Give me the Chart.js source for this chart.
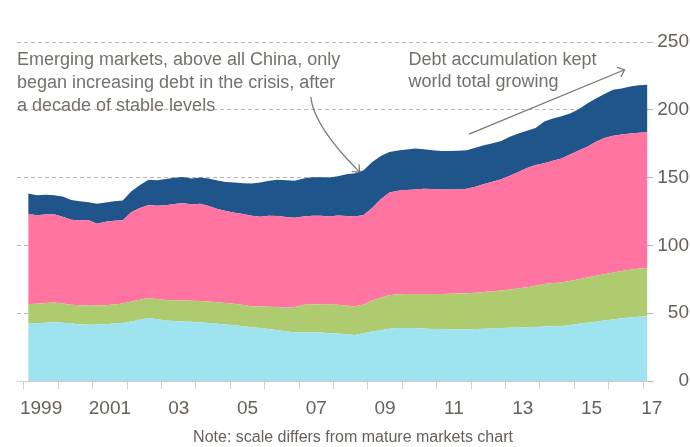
<!DOCTYPE html>
<html>
<head>
<meta charset="utf-8">
<script src="https://cdn.jsdelivr.net/npm/chart.js@4.4.1/dist/chart.umd.min.js"></script>
<style>
  html, body { margin: 0; padding: 0; background: #fff; }
  #wrap { width: 690px; height: 447px; }
</style>
</head>
<body>
<div id="wrap"><canvas id="debtChart"></canvas></div>
<script>
// Emerging markets debt, % of GDP, quarterly, stacked bottom to top
const quarters = [
    '1999Q1', '1999Q2', '1999Q3', '1999Q4', '2000Q1', '2000Q2', '2000Q3', '2000Q4',
    '2001Q1', '2001Q2', '2001Q3', '2001Q4', '2002Q1', '2002Q2', '2002Q3', '2002Q4',
    '2003Q1', '2003Q2', '2003Q3', '2003Q4', '2004Q1', '2004Q2', '2004Q3', '2004Q4',
    '2005Q1', '2005Q2', '2005Q3', '2005Q4', '2006Q1', '2006Q2', '2006Q3', '2006Q4',
    '2007Q1', '2007Q2', '2007Q3', '2007Q4', '2008Q1', '2008Q2', '2008Q3', '2008Q4',
    '2009Q1', '2009Q2', '2009Q3', '2009Q4', '2010Q1', '2010Q2', '2010Q3', '2010Q4',
    '2011Q1', '2011Q2', '2011Q3', '2011Q4', '2012Q1', '2012Q2', '2012Q3', '2012Q4',
    '2013Q1', '2013Q2', '2013Q3', '2013Q4', '2014Q1', '2014Q2', '2014Q3', '2014Q4',
    '2015Q1', '2015Q2', '2015Q3', '2015Q4', '2016Q1', '2016Q2', '2016Q3', '2016Q4',
    '2017Q1'
];

// bottom band (light blue)
const band1 = [
    42.4, 42.5, 42.9, 43.3, 42.9, 42.4, 41.9, 41.4,
    41.6, 41.8, 42.4, 42.8, 43.8, 45.1, 46.4, 45.6,
    44.6, 44.2, 43.9, 43.7, 43.2, 42.7, 42.2, 41.6,
    41.2, 40.3, 39.6, 39.0, 38.3, 37.5, 36.6, 35.8,
    35.8, 35.8, 35.7, 35.2, 35.0, 34.4, 34.0, 35.2,
    36.5, 37.5, 38.5, 39.0, 39.0, 39.0, 38.7, 38.4,
    38.3, 38.1, 38.0, 38.0, 38.3, 38.6, 38.8, 39.1,
    39.3, 39.5, 39.7, 39.9, 40.1, 40.3, 40.6, 41.3,
    42.2, 42.9, 43.7, 44.6, 45.4, 46.3, 46.9, 47.4,
    47.6
];

// second band (green)
const band2 = [
    14.3, 14.4, 14.6, 14.6, 14.3, 13.8, 13.9, 14.1,
    14.0, 14.0, 14.1, 14.4, 14.8, 14.9, 14.8, 14.9,
    15.2, 15.4, 15.5, 15.5, 15.8, 15.9, 15.9, 15.9,
    15.8, 15.7, 15.6, 15.9, 16.5, 17.0, 17.5, 18.7,
    20.4, 20.7, 20.9, 21.2, 21.3, 21.2, 21.0, 21.3,
    22.8, 24.0, 24.7, 25.0, 25.2, 25.2, 25.5, 25.7,
    25.8, 26.2, 26.5, 26.7, 26.8, 27.0, 27.3, 27.7,
    28.2, 28.7, 29.4, 30.4, 31.5, 31.9, 32.1, 32.5,
    32.8, 33.4, 34.0, 34.1, 34.6, 34.9, 35.1, 35.5,
    35.8
];

// third band (pink)
const band3 = [
    66.7, 65.3, 65.3, 65.0, 64.0, 62.8, 62.6, 63.3,
    60.4, 61.7, 61.7, 61.4, 66.0, 67.6, 68.6, 68.8,
    69.9, 70.9, 71.8, 70.9, 71.7, 70.4, 68.8, 67.9,
    67.1, 67.2, 66.7, 66.3, 67.0, 67.1, 66.9, 65.9,
    65.1, 65.3, 65.3, 65.0, 65.7, 66.0, 66.4, 65.9,
    68.2, 72.5, 75.8, 76.3, 76.6, 77.0, 77.6, 77.5,
    77.1, 76.9, 76.8, 77.1, 78.1, 79.6, 80.9, 81.9,
    83.8, 86.0, 87.9, 89.0, 88.9, 90.3, 91.3, 93.2,
    95.0, 96.4, 98.8, 100.5, 100.9, 100.6, 100.5, 100.2,
    100.0
];

// top band (dark blue)
const band4 = [
    14.8, 14.8, 14.6, 14.1, 14.8, 14.5, 14.2, 13.0,
    14.8, 14.2, 14.4, 14.6, 15.4, 16.9, 18.7, 18.7,
    19.3, 19.3, 19.2, 19.2, 19.3, 20.3, 20.9, 21.4,
    22.3, 22.7, 23.7, 25.1, 25.8, 26.8, 27.0, 27.2,
    28.0, 28.4, 28.4, 28.6, 29.0, 30.8, 31.8, 33.1,
    34.0, 32.0, 29.8, 29.7, 30.0, 30.3, 29.1, 28.6,
    28.5, 28.5, 28.5, 28.3, 28.8, 28.7, 28.4, 28.3,
    28.9, 28.3, 27.6, 27.3, 30.9, 31.1, 31.2, 30.2,
    30.4, 31.9, 31.9, 32.5, 33.9, 34.0, 34.7, 35.0,
    35.0
];

const tickYears = [1999, 2000, 2001, 2002, 2003, 2004, 2005, 2006, 2007, 2008,
    2009, 2010, 2011, 2012, 2013, 2014, 2015, 2016, 2017];
const labelYears = [1999, 2001, 2003, 2005, 2007, 2009, 2011, 2013, 2015, 2017];
const yTicks = [0, 50, 100, 150, 200, 250];

const noteText = 'Note: scale differs from mature markets chart';
const notes = [
    { x: 1998.8, y: 233, lines: ['Emerging markets, above all China, only',
        'began increasing debt in the crisis, after', 'a decade of stable levels'] },
    { x: 2010.18, y: 233, lines: ['Debt accumulation kept', 'world total growing'] }
];
const arrows = [
    { from: [2007.34, 209.5], via: [2007.42, 188], to: [2008.76, 154] },
    { from: [2011.94, 182.1], to: [2016.46, 229.5] }
];

const X_MIN = 1998.8, X_MAX = 2017.15;
const grey = '#66605c';

const toYear = q => +q.slice(0, 4) + (+q.slice(5) - 0.5) / 4;
const series = (vals) => vals.map((v, i) => ({ x: toYear(quarters[i]), y: v }));

Chart.defaults.font.family = "'Liberation Sans', Arial, sans-serif";
Chart.defaults.color = grey;

const annotations = {
    id: 'annotations',
    afterDatasetsDraw(chart) {
        const { ctx, scales: { x, y } } = chart;
        ctx.save();
        ctx.fillStyle = '#74706b';
        ctx.font = "18px 'Liberation Sans', Arial, sans-serif";
        ctx.textBaseline = 'alphabetic';
        notes.forEach((n, ni) => {
            const lh = ni === 0 ? 23 : 22;
            n.lines.forEach((line, i) => {
                ctx.fillText(line, x.getPixelForValue(n.x), y.getPixelForValue(n.y) + i * lh);
            });
        });

        ctx.strokeStyle = '#7a7570';
        ctx.lineWidth = 1.2;
        arrows.forEach(a => {
            const p0 = [x.getPixelForValue(a.from[0]), y.getPixelForValue(a.from[1])];
            const p1 = [x.getPixelForValue(a.to[0]), y.getPixelForValue(a.to[1])];
            ctx.beginPath();
            ctx.moveTo(p0[0], p0[1]);
            let back = p0;
            if (a.via) {
                const c = [x.getPixelForValue(a.via[0]), y.getPixelForValue(a.via[1])];
                ctx.quadraticCurveTo(c[0], c[1], p1[0], p1[1]);
                back = c;
            } else {
                ctx.lineTo(p1[0], p1[1]);
            }
            ctx.stroke();
            // open arrow head
            const ang = Math.atan2(p1[1] - back[1], p1[0] - back[0]);
            const len = 8, spread = 0.7;
            ctx.beginPath();
            ctx.moveTo(p1[0] - len * Math.cos(ang - spread), p1[1] - len * Math.sin(ang - spread));
            ctx.lineTo(p1[0], p1[1]);
            ctx.lineTo(p1[0] - len * Math.cos(ang + spread), p1[1] - len * Math.sin(ang + spread));
            ctx.stroke();
        });
        ctx.restore();
    }
};

new Chart(document.getElementById('debtChart'), {
    type: 'line',
    data: {
        datasets: [
            { data: series(band1), backgroundColor: '#9de3f0', fill: 'origin' },
            { data: series(band2), backgroundColor: '#aecb70', fill: '-1' },
            { data: series(band3), backgroundColor: '#ff74a0', fill: '-1' },
            { data: series(band4), backgroundColor: '#1f558b', fill: '-1' }
        ].map(d => ({ ...d, borderWidth: 0, pointRadius: 0, tension: 0 }))
    },
    options: {
        responsive: true,
        maintainAspectRatio: false,
        animation: false,
        layout: { padding: { left: 17, right: 1, top: 42, bottom: 0 } },
        plugins: {
            legend: { display: false },
            tooltip: { enabled: false },
            title: {
                display: true,
                position: 'bottom',
                text: noteText,
                color: grey,
                font: { size: 16, weight: 'normal' },
                padding: { top: 0, bottom: 0 }
            }
        },
        scales: {
            x: {
                type: 'linear',
                min: X_MIN,
                max: X_MAX,
                afterBuildTicks: s => { s.ticks = tickYears.map(v => ({ value: v })); },
                ticks: { display: false },
                grid: { drawOnChartArea: false, drawTicks: true, tickLength: 8, tickColor: '#cfcbc7' },
                border: { display: true, color: '#cfcbc7' }
            },
            xl: {
                type: 'linear',
                position: 'bottom',
                weight: 1,
                min: X_MIN,
                max: X_MAX,
                afterBuildTicks: s => {
                    s.ticks = labelYears.map(v => ({ value: Math.min(v + 0.5, X_MAX + 0.1) }));
                },
                ticks: {
                    autoSkip: false,
                    maxRotation: 0,
                    padding: 8,
                    color: grey,
                    font: { size: 19 },
                    callback: (v) => {
                        const yr = Math.floor(v);
                        return yr <= 2001 ? String(yr) : String(yr).slice(2);
                    }
                },
                grid: { display: false, drawTicks: false },
                border: { display: false }
            },
            y: {
                position: 'right',
                stacked: true,
                min: 0,
                max: 250,
                afterBuildTicks: s => { s.ticks = yTicks.map(v => ({ value: v })); },
                ticks: { color: grey, font: { size: 19 }, padding: 2, crossAlign: 'far' },
                grid: {
                    color: '#bab5b0',
                    tickColor: '#bab5b0',
                    tickLength: 5,
                    tickBorderDash: []
                },
                border: {
                    display: false,
                    dash: (ctx) => (ctx.tick && ctx.tick.value === 0 ? [] : [4, 3])
                }
            }
        }
    },
    plugins: [annotations]
});
</script>
</body>
</html>
